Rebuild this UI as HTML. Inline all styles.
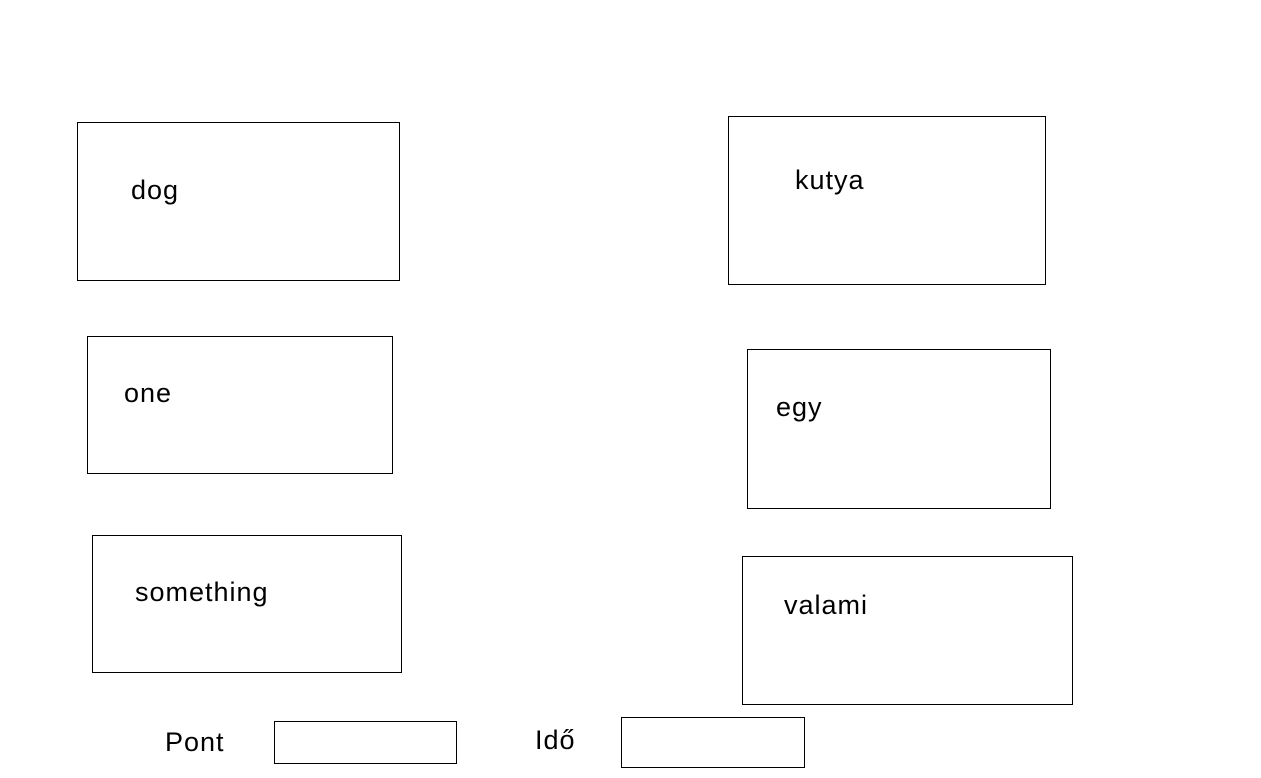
<!DOCTYPE html>
<html><head><meta charset="utf-8"><style>
html,body{margin:0;padding:0;background:#fff;width:1261px;height:778px;overflow:hidden;position:relative}
.b{position:absolute;border:1px solid #000;box-sizing:border-box}
.t{position:absolute;font-family:"Liberation Sans",sans-serif;font-size:27px;letter-spacing:1px;line-height:1;color:#000;white-space:nowrap}
</style></head><body>
<div class="b" style="left:77px;top:122px;width:323px;height:159px"></div>
<div class="b" style="left:728px;top:116px;width:318px;height:169px"></div>
<div class="b" style="left:87px;top:336px;width:306px;height:138px"></div>
<div class="b" style="left:747px;top:349px;width:304px;height:160px"></div>
<div class="b" style="left:92px;top:535px;width:310px;height:138px"></div>
<div class="b" style="left:742px;top:556px;width:331px;height:149px"></div>
<div class="b" style="left:274px;top:721px;width:183px;height:43px"></div>
<div class="b" style="left:621px;top:717px;width:184px;height:51px"></div>
<div class="t" style="left:131px;top:177px">dog</div>
<div class="t" style="left:795px;top:167px">kutya</div>
<div class="t" style="left:124px;top:380px">one</div>
<div class="t" style="left:776px;top:394px">egy</div>
<div class="t" style="left:135px;top:579px">something</div>
<div class="t" style="left:784px;top:592px">valami</div>
<div class="t" style="left:165px;top:729px">Pont</div>
<div class="t" style="left:535px;top:727px">Idő</div>
</body></html>
